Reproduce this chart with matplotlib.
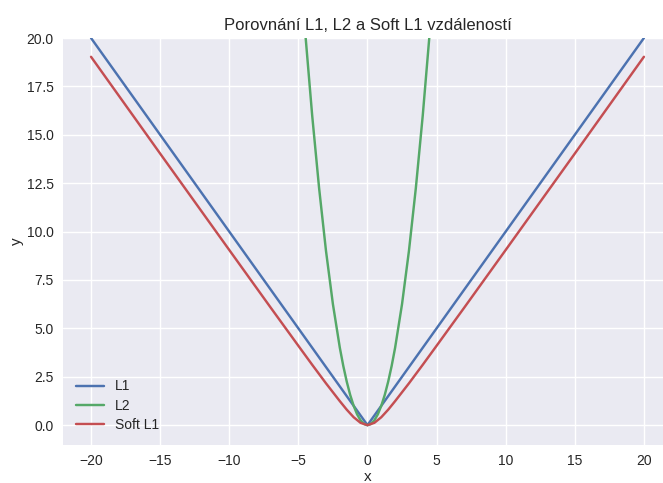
import matplotlib
matplotlib.use("Agg")
import matplotlib.pyplot as plt

# L1 (absolute value)
x_l1 = [-20, 0, 20]
y_l1 = [20, 0, 20]

# L2 (squared) - only the visible part matters
x_l2 = [-5.0, -4.5, -4.0, -3.5, -3.0, -2.5, -2.0, -1.75, -1.5, -1.25, -1.0,
        -0.75, -0.5, -0.25, 0.0, 0.25, 0.5, 0.75, 1.0, 1.25, 1.5, 1.75,
        2.0, 2.5, 3.0, 3.5, 4.0, 4.5, 5.0]
y_l2 = [25.0, 20.25, 16.0, 12.25, 9.0, 6.25, 4.0, 3.06, 2.25, 1.56, 1.0,
        0.56, 0.25, 0.06, 0.0, 0.06, 0.25, 0.56, 1.0, 1.56, 2.25, 3.06,
        4.0, 6.25, 9.0, 12.25, 16.0, 20.25, 25.0]

# Soft L1
x_soft = [-20, -15, -10, -7, -5, -4, -3, -2, -1.5, -1, -0.5, 0,
          0.5, 1, 1.5, 2, 3, 4, 5, 7, 10, 15, 20]
y_soft = [19.03, 14.03, 9.05, 6.07, 4.10, 3.12, 2.16, 1.24, 0.80, 0.41, 0.12, 0.0,
          0.12, 0.41, 0.80, 1.24, 2.16, 3.12, 4.10, 6.07, 9.05, 14.03, 19.03]

plt.style.use("seaborn-v0_8")
fig = plt.figure(figsize=(6.63, 4.83), dpi=100)
ax = fig.add_axes([0.0956, 0.0797, 0.9173, 0.8416])

ax.plot(x_l1, y_l1, label="L1")
ax.plot(x_l2, y_l2, label="L2")
ax.plot(x_soft, y_soft, label="Soft L1")

ax.set_xlim(-22, 22)
ax.set_ylim(-1, 20)
ax.set_title("Porovnání L1, L2 a Soft L1 vzdáleností")
ax.set_xlabel("x", labelpad=1)
ax.set_ylabel("y", labelpad=2)
ax.legend(loc="lower left", labelspacing=0.38)

fig.savefig("out.png")
